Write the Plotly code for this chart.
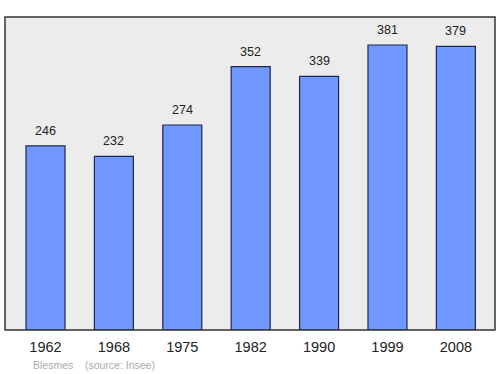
import plotly.graph_objects as go

years = ["1962", "1968", "1975", "1982", "1990", "1999", "2008"]
population = [246, 232, 274, 352, 339, 381, 379]
positions = list(range(len(years)))

fig = go.Figure()
fig.add_trace(go.Bar(
    x=positions, y=population, width=0.57,
    marker=dict(color="#7098ff", line=dict(color="#1c2850", width=1.2)),
    hoverinfo="skip",
))

for xi, v in zip(positions, population):
    fig.add_annotation(x=xi, y=v, text=str(v), showarrow=False, yanchor="bottom",
                       yshift=6, font=dict(family="Liberation Sans, Arial", size=12.5, color="#222"))

fig.add_annotation(xref="paper", yref="paper", x=0.053, y=-0.112, xanchor="left", yanchor="middle",
                   text="Blesmes&nbsp;&nbsp;&nbsp;&nbsp;(source: Insee)", showarrow=False,
                   font=dict(family="Liberation Sans, Arial", size=10.5, color="#aaaaaa"))

fig.add_shape(type="rect", xref="paper", yref="paper", x0=0, y0=0, x1=1, y1=1,
              line=dict(color="#333333", width=1.5), layer="above")

fig.update_layout(
    width=500, height=374,
    margin=dict(l=5, r=5, t=17, b=44),
    paper_bgcolor="white", plot_bgcolor="#ececec",
    showlegend=False,
    xaxis=dict(range=[-0.592, 6.572], tickmode="array", tickvals=positions, ticktext=years,
               showgrid=False, zeroline=False, ticks="", showline=False, ticklabelstandoff=6,
               tickfont=dict(family="Liberation Sans, Arial", size=14.5, color="#222")),
    yaxis=dict(range=[0, 418.4], showgrid=False, zeroline=False, showticklabels=False, ticks=""),
)

fig.write_html("out.html")
